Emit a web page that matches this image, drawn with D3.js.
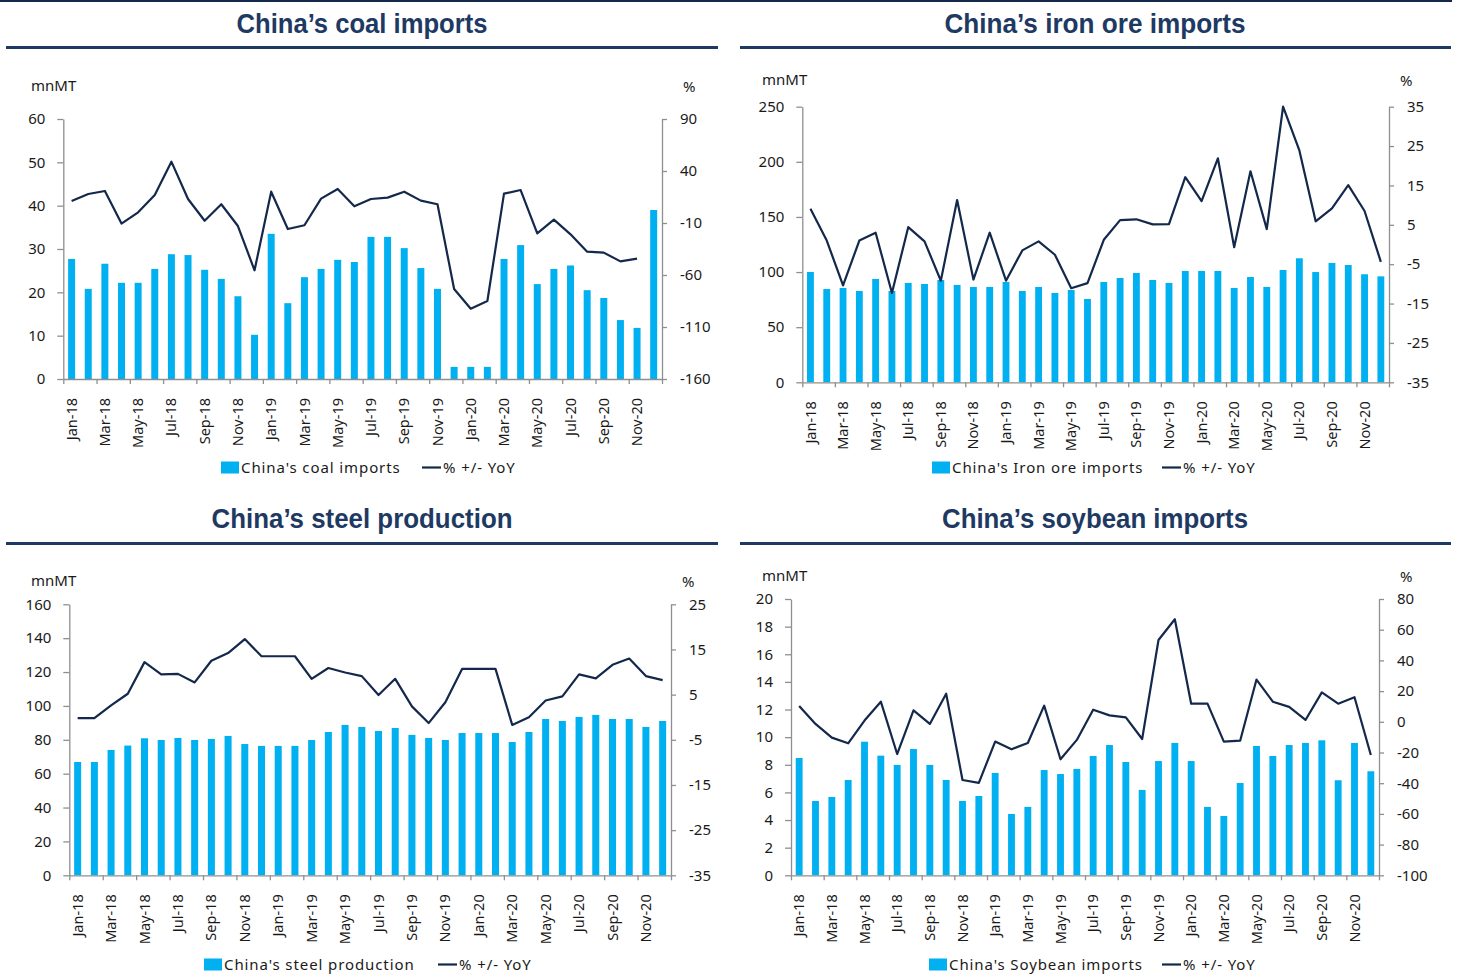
<!DOCTYPE html>
<html>
<head>
<meta charset="utf-8">
<script src="https://cdn.jsdelivr.net/npm/d3@7"></script>
<style>
  body { margin: 0; background: #fff; }
  svg { display: block; font-family: "Noto Sans", sans-serif; }
  .domain, .tick line { stroke: #8f8f8f; stroke-width: 1.3; }
  .tick text { fill: #1a1a1a; font-size: 15px; font-family: "Noto Sans", sans-serif; }
  .xlab .tick text { font-size: 14.5px; }
  .title { font-family: "Liberation Sans", sans-serif; font-weight: bold; font-size: 28px; fill: #1e3a63; }
  .unit { font-size: 15px; fill: #1a1a1a; }
  .legend { font-size: 15px; fill: #1a1a1a; letter-spacing: 0.9px; }
</style>
</head>
<body>
<div id="chart"></div>
<script>
// months on the x axis
var months = ["Jan-18","Feb-18","Mar-18","Apr-18","May-18","Jun-18","Jul-18","Aug-18","Sep-18","Oct-18","Nov-18","Dec-18",
  "Jan-19","Feb-19","Mar-19","Apr-19","May-19","Jun-19","Jul-19","Aug-19","Sep-19","Oct-19","Nov-19","Dec-19",
  "Jan-20","Feb-20","Mar-20","Apr-20","May-20","Jun-20","Jul-20","Aug-20","Sep-20","Oct-20","Nov-20","Dec-20"];

// coal imports (mnMT) and % yoy
var coalImports = [27.7,20.8,26.6,22.2,22.2,25.4,28.8,28.6,25.2,23.1,19.1,10.2,33.5,17.5,23.5,25.4,27.5,27.0,
  32.8,32.8,30.2,25.6,20.8,2.8,2.8,2.8,27.7,30.9,21.9,25.4,26.2,20.5,18.7,13.6,11.8,39.0];
var coalYoY = [11.2,17.9,20.8,-10.6,0.3,16.9,49,13.1,-7.8,8,-12.9,-55.5,20.1,-15.8,-12.2,13.4,22.7,6,
  13.1,14.4,20.1,11.5,8,-73.5,-92.4,-85,18.2,21.7,-20,-6.8,-20.9,-37.6,-38.5,-46.9,-44.3,null];
var coalLeftTicks = [0,10,20,30,40,50,60];
var coalRightTicks = [-160,-110,-60,-10,40,90];

// iron ore imports
var ironImports = [100.1,84.6,85.6,82.8,93.7,82.8,90.1,89.2,92.8,88.3,86.5,86.5,91,82.8,86.5,81,83.7,75.6,
  91,94.6,99.2,92.8,90.1,101,101,101,85.6,95.5,86.5,101.9,112.5,100,108.2,106.4,98,96.1];
var ironYoY = [9.1,1.0,-10.4,1.0,3.0,-12.3,4.4,0.8,-9.2,11.3,-8.9,3.0,-9.2,-1.5,0.8,-2.6,-11.1,-9.8,
  1.2,6.2,6.4,5.1,5.2,17.1,11,21.9,-0.7,18.6,3.9,35,23.9,5.9,9.2,15.1,8.5,-4.4];
var ironLeftTicks = [0,50,100,150,200,250];
var ironRightTicks = [-35,-25,-15,-5,5,15,25,35];

// steel production
var steelProduction = [66.9,66.9,74,76.6,80.9,79.9,81.1,79.9,80.5,82.3,77.5,76.4,76.4,76.4,79.9,84.6,88.8,87.6,
  85.2,87,82.9,81.1,79.9,84,84,84,78.7,84.6,92.3,91.1,93.5,94.7,92.3,92.3,87.6,91.1];
var steelYoY = [-0.2,-0.2,2.6,5.2,12.2,9.5,9.6,7.7,12.5,14.2,17.3,13.5,13.5,13.5,8.5,10.9,9.9,9.1,
  4.9,8.5,2.4,-1.3,3.3,10.7,10.7,10.7,-1.7,0,3.7,4.6,9.5,8.6,11.6,13,9.1,8.2];
var steelLeftTicks = [0,20,40,60,80,100,120,140,160];
var steelRightTicks = [-35,-25,-15,-5,5,15,25];

// soybean imports
var soyImports = [8.49,5.38,5.67,6.9,9.67,8.66,7.99,9.14,7.99,6.9,5.38,5.74,7.41,4.44,4.95,7.62,7.33,7.7,
  8.64,9.43,8.2,6.18,8.27,9.58,8.27,4.95,4.29,6.68,9.36,8.64,9.43,9.58,9.77,6.88,9.58,7.53];
var soyYoY = [10.3,-1.4,-10.3,-14,0.8,13.1,-21,7.5,-1.4,18.3,-37.9,-39.8,-12.9,-17.9,-13.8,10.5,-24.4,-11.8,
  7.9,4.2,2.9,-11.2,53.3,66.8,11.8,11.8,-12.9,-12.3,27.5,13.1,9.7,1.2,19.2,11.8,16,-21.6];
var soyLeftTicks = [0,2,4,6,8,10,12,14,16,18,20];
var soyRightTicks = [-100,-80,-60,-40,-20,0,20,40,60,80];

var barColor = "#00b0f0";
var lineColor = "#13284b";

// plain hyphen for negatives, like the original
var fmt = function(d) { return String(d); };

var svg = d3.select("#chart").append("svg")
  .attr("width", 1457)
  .attr("height", 976);

// top border
svg.append("line")
  .attr("x1", 0).attr("x2", 1452).attr("y1", 1).attr("y2", 1)
  .attr("stroke", lineColor).attr("stroke-width", 2);

var panels = [
  { title: "China\u2019s coal imports", tw: 251, bars: coalImports, yoy: coalYoY, name: "China's coal imports",
    lt: coalLeftTicks, rt: coalRightTicks, left: 63.3, right: 662, top: 119, bottom: 379,
    cx: 362, titleY: 33, ruleY: 47.5, rx: [6, 718], unitX: 31, unitY: 91, pctX: 683, pctY: 92,
    legY: 467.5, legX: 221, legLine: 422 },
  { title: "China\u2019s iron ore imports", tw: 301, bars: ironImports, yoy: ironYoY, name: "China's Iron ore imports",
    lt: ironLeftTicks, rt: ironRightTicks, left: 802.3, right: 1389, top: 106.7, bottom: 382.3,
    cx: 1095, titleY: 33, ruleY: 47.5, rx: [740, 1451], unitX: 762, unitY: 85, pctX: 1400, pctY: 86,
    legY: 467.5, legX: 932, legLine: 1162 },
  { title: "China\u2019s steel production", tw: 301, bars: steelProduction, yoy: steelYoY, name: "China's steel production",
    lt: steelLeftTicks, rt: steelRightTicks, left: 69.3, right: 671, top: 604.3, bottom: 875.3,
    cx: 362, titleY: 528, ruleY: 543.5, rx: [6, 718], unitX: 31, unitY: 586, pctX: 682, pctY: 587,
    legY: 964.5, legX: 204, legLine: 438 },
  { title: "China\u2019s soybean imports", tw: 306, bars: soyImports, yoy: soyYoY, name: "China's Soybean imports",
    lt: soyLeftTicks, rt: soyRightTicks, left: 791, right: 1379, top: 599, bottom: 875.3,
    cx: 1095, titleY: 528, ruleY: 543.5, rx: [740, 1451], unitX: 762, unitY: 581, pctX: 1400, pctY: 582,
    legY: 964.5, legX: 929, legLine: 1162 }
];

panels.forEach(function(p) {
  var g = svg.append("g");

  // title + rule
  g.append("text").attr("class", "title")
    .attr("x", p.cx).attr("y", p.titleY).attr("text-anchor", "middle")
    .attr("textLength", p.tw).attr("lengthAdjust", "spacingAndGlyphs")
    .text(p.title);
  g.append("line")
    .attr("x1", p.rx[0]).attr("x2", p.rx[1]).attr("y1", p.ruleY).attr("y2", p.ruleY)
    .attr("stroke", "#1e3a63").attr("stroke-width", 3);

  // scales
  var x = d3.scaleBand().domain(months).range([p.left, p.right])
    .paddingInner(0.58).paddingOuter(0.29);
  var xb = d3.scaleLinear().domain([0, months.length]).range([p.left, p.right]);
  var yL = d3.scaleLinear().domain(d3.extent(p.lt)).range([p.bottom, p.top]);
  var yR = d3.scaleLinear().domain(d3.extent(p.rt)).range([p.bottom, p.top]);

  // bars
  g.selectAll(".bar").data(p.bars).enter().append("rect")
    .attr("x", function(d, i) { return x(months[i]); })
    .attr("width", x.bandwidth())
    .attr("y", function(d) { return yL(d); })
    .attr("height", function(d) { return yL(0) - yL(d); })
    .attr("fill", barColor);

  // yoy line
  var line = d3.line()
    .defined(function(d) { return d != null; })
    .x(function(d, i) { return x(months[i]) + x.bandwidth() / 2; })
    .y(function(d) { return yR(d); });
  g.append("path").datum(p.yoy)
    .attr("d", line)
    .attr("fill", "none")
    .attr("stroke", lineColor)
    .attr("stroke-width", 2.2)
    .attr("stroke-linejoin", "round");

  // left axis
  g.append("g")
    .attr("transform", "translate(" + p.left + ",0)")
    .call(d3.axisLeft(yL).tickValues(p.lt).tickFormat(fmt).tickSize(6).tickSizeOuter(0).tickPadding(12));

  // right axis
  g.append("g")
    .attr("transform", "translate(" + p.right + ",0)")
    .call(d3.axisRight(yR).tickValues(p.rt).tickFormat(fmt).tickSize(5).tickSizeOuter(0).tickPadding(13));

  // bottom axis: boundary ticks every two months
  var ticks = d3.range(0, months.length + 1, 2);
  g.append("g")
    .attr("transform", "translate(0," + p.bottom + ")")
    .call(d3.axisBottom(xb).tickValues(ticks).tickFormat("").tickSize(5).tickSizeOuter(0));

  // bottom labels
  var lab = g.append("g").attr("class", "xlab")
    .attr("transform", "translate(0," + p.bottom + ")")
    .call(d3.axisBottom(x).tickValues(months.filter(function(d, i) { return i % 2 === 0; }))
      .tickSize(0));
  lab.select(".domain").remove();
  lab.selectAll(".tick text")
    .attr("transform", "rotate(-90)")
    .attr("x", -19).attr("y", 0).attr("dy", "0.35em")
    .style("text-anchor", "end");

  // units
  g.append("text").attr("class", "unit").attr("x", p.unitX).attr("y", p.unitY).text("mnMT");
  g.append("text").attr("class", "unit").attr("x", p.pctX).attr("y", p.pctY).text("%");

  // legend
  g.append("rect").attr("x", p.legX).attr("y", p.legY - 6).attr("width", 18).attr("height", 12)
    .attr("fill", barColor);
  g.append("text").attr("class", "legend").attr("x", p.legX + 20).attr("y", p.legY + 5).text(p.name);
  g.append("line").attr("x1", p.legLine).attr("x2", p.legLine + 19)
    .attr("y1", p.legY).attr("y2", p.legY)
    .attr("stroke", lineColor).attr("stroke-width", 2.2);
  g.append("text").attr("class", "legend").attr("x", p.legLine + 21).attr("y", p.legY + 5).text("% +/- YoY");
});
</script>
</body>
</html>
